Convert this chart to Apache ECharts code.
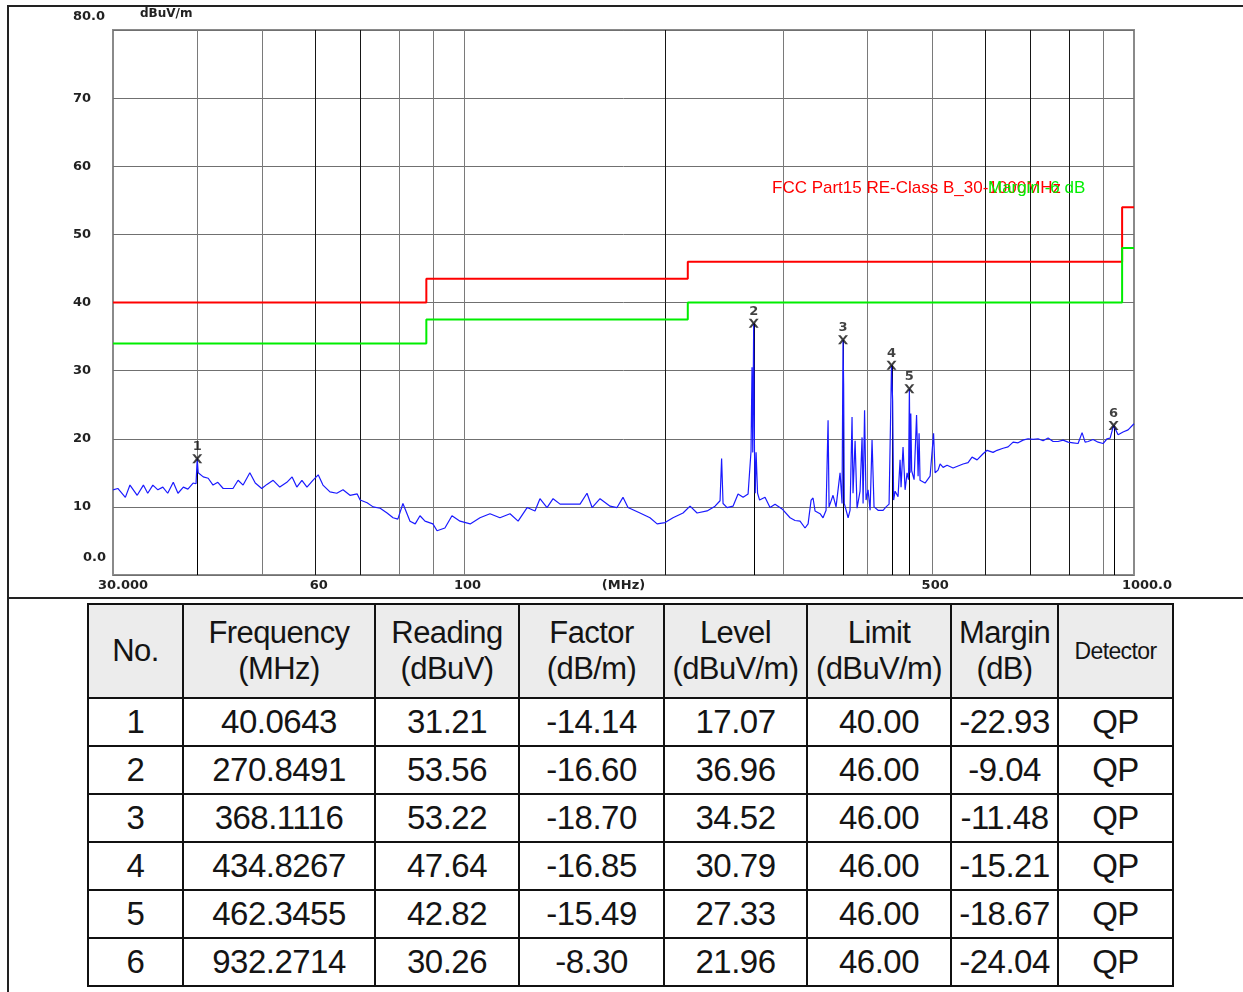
<!DOCTYPE html>
<html><head><meta charset="utf-8">
<script src="https://cdn.jsdelivr.net/npm/echarts@6/dist/echarts.min.js"></script>
<style>
html,body{margin:0;padding:0;background:#fff;width:1243px;height:992px;overflow:hidden;}
#frameL{position:absolute;left:7px;top:5px;width:0;height:990px;border-left:2px solid #222;}
#frameT{position:absolute;left:7px;top:5px;width:1236px;height:0;border-top:2px solid #222;}
#sep{position:absolute;left:7px;top:597px;width:1236px;height:0;border-top:2px solid #222;}
#chart{position:absolute;left:0;top:0;width:1243px;height:597px;}
#tbl{position:absolute;left:87px;top:603px;border-collapse:collapse;font-family:'Liberation Sans',Arial,sans-serif;color:#141414;table-layout:fixed;}
#tbl td,#tbl th{border:2px solid #111;text-align:center;padding:0;font-weight:normal;white-space:nowrap;overflow:hidden;}
#tbl th{background:#ececec;height:92px;font-size:31px;line-height:36px;letter-spacing:-0.6px;}
#tbl th.small{font-size:23px;}
#tbl td{height:46px;font-size:33px;line-height:46px;letter-spacing:-0.5px;}
</style></head>
<body>
<div id="chart"></div>
<div id="frameL"></div><div id="frameT"></div><div id="sep"></div>
<table id="tbl"></table>
<script>
// ---------- data ----------
const xTickValues = [30, 60, 100, 500, 1000];
const xTickLabels = ['30.000', '60', '100', '500', '1000.0'];
const yTickLabels = ['0.0', '10', '20', '30', '40', '50', '60', '70', '80.0'];
const gridFreqs = [40, 50, 60, 70, 80, 90, 100, 200, 300, 400, 500, 600, 700, 800, 900];
const darkGridFreqs = [60, 70, 200, 600, 700, 800];

const limitFreq  = [30, 88, 88, 216, 216, 960, 960, 1000];
const limitClassB = [40, 40, 43.5, 43.5, 46, 46, 54, 54];
const limitMargin = [34, 34, 37.5, 37.5, 40, 40, 48, 48];

const traceFreq = [30.0,30.5,31.3,31.8,32.6,33.3,33.8,34.4,35.0,35.6,36.2,36.9,37.5,38.2,38.8,39.5,39.9,40.06,40.2,40.9,41.6,42.3,43.0,43.8,44.5,45.3,46.1,46.9,48.0,48.9,50.0,50.9,52.0,53.2,54.5,55.5,56.4,57.4,58.4,59.6,60.7,61.7,63.2,64.7,66.1,67.7,69.4,70.1,71.8,73.3,75.1,76.9,78.5,79.8,81.2,83.2,84.7,86.1,87.6,90.0,91.3,93.8,96.1,98.8,102.3,105.8,109.5,113.3,117.3,120.6,124.4,127.8,130.0,133.2,136.0,139.3,144.1,149.2,152.8,155.5,159.8,165.4,169.4,172.9,175.9,183.3,189.7,194.4,199.8,205.3,212.5,217.7,223.0,230.8,237.2,241.3,242.6,243.8,247.2,252.3,256.7,261.2,265.7,268.4,269.3,270.0,270.85,271.6,272.3,273.1,274.5,276.4,281.6,286.5,291.5,298.6,306.9,312.2,317.6,323.1,326.5,329.9,332.1,334.4,340.2,343.7,347.3,349.7,350.9,355.7,359.4,364.4,366.9,368.11,368.9,369.7,374.6,377.1,379.7,381.0,383.7,386.3,390.3,393.0,394.4,396.4,398.4,401.2,404.0,406.7,409.5,415.2,422.4,426.8,431.2,434.83,436.5,438.0,440.2,444.7,447.8,449.3,452.4,455.6,458.7,461.0,462.35,463.5,464.6,466.0,469.9,473.9,476.4,478.0,479.6,487.9,496.4,502.4,505.0,510.2,513.8,519.1,526.3,537.2,546.5,556.0,565.6,573.4,583.4,595.5,603.8,616.3,624.9,637.9,648.9,660.2,671.6,683.2,695.1,707.1,719.3,731.8,744.5,757.4,770.5,783.8,797.4,811.2,825.3,836.7,845.4,854.1,868.9,884.0,899.3,911.7,921.2,932.27,946.8,963.2,979.9,1000];
const traceLevel = [12.5,12.7,11.4,13.2,11.7,13.2,12.0,13.2,12.5,12.9,12.0,13.6,12.0,12.9,12.6,13.5,13.4,17.07,15.0,14.4,14.2,13.2,13.6,12.7,12.7,12.7,13.9,13.2,15.0,13.5,12.7,13.3,13.9,12.9,13.6,14.4,12.9,13.9,12.9,13.9,14.7,13.2,12.2,12.0,12.5,11.7,11.9,11.0,10.6,10.0,9.8,9.1,8.4,8.2,10.5,7.9,7.5,8.7,7.9,7.5,6.5,6.9,8.7,7.9,7.5,8.4,9.0,8.4,9.0,7.9,9.9,9.4,11.2,9.9,11.2,10.4,10.4,10.4,12.0,9.9,11.2,10.1,9.9,11.4,9.9,9.1,8.4,7.5,7.7,8.4,9.1,10.1,9.1,9.4,10.1,10.9,17.1,10.5,9.9,10.1,11.9,11.4,11.9,18.2,30.5,18.0,36.96,18.2,12.0,18.0,12.0,11.0,11.4,9.9,10.4,9.7,8.4,8.0,7.9,6.9,7.5,11.0,11.3,9.4,9.0,8.4,9.5,22.7,10.0,11.7,10.0,15.0,10.5,34.52,28.0,10.5,8.4,9.5,23.2,12.0,19.7,9.8,12.3,20.2,10.5,24.2,11.0,12.5,9.5,19.8,10.0,9.5,9.5,10.0,10.4,30.79,25.6,11.0,12.3,11.5,16.9,12.9,18.8,12.5,15.0,14.0,27.33,15.0,23.7,15.3,14.0,23.5,14.5,20.8,13.9,13.5,14.5,20.8,15.0,15.4,16.3,15.8,16.1,15.7,16.0,16.3,16.5,17.3,16.9,17.8,18.3,18.0,18.3,18.6,18.8,19.5,19.4,19.8,20.0,19.9,20.0,19.7,20.1,19.6,19.6,19.8,19.5,19.4,19.3,20.9,19.5,19.6,19.9,19.5,19.3,20.0,20.1,21.96,20.6,21.0,21.3,22.2];

const markerNo = [1, 2, 3, 4, 5, 6];
const markerFreq = [40.0643, 270.8491, 368.1116, 434.8267, 462.3455, 932.2714];
const markerReading = [31.21, 53.56, 53.22, 47.64, 42.82, 30.26];
const markerFactor = [-14.14, -16.60, -18.70, -16.85, -15.49, -8.30];
const markerLevel = [17.07, 36.96, 34.52, 30.79, 27.33, 21.96];
const markerLimit = [40.00, 46.00, 46.00, 46.00, 46.00, 46.00];
const markerMargin = [-22.93, -9.04, -11.48, -15.21, -18.67, -24.04];
const markerDetector = ['QP', 'QP', 'QP', 'QP', 'QP', 'QP'];

const headerLines = [['No.'], ['Frequency', '(MHz)'], ['Reading', '(dBuV)'], ['Factor', '(dB/m)'], ['Level', '(dBuV/m)'], ['Limit', '(dBuV/m)'], ['Margin', '(dB)'], ['Detector']];
const colWidths = [95, 192, 144, 145, 143, 144, 107, 115];

// ---------- table ----------
(function () {
  const t = document.getElementById('tbl');
  let h = '<colgroup>' + colWidths.map(w => '<col style="width:' + w + 'px">').join('') + '</colgroup><tr>';
  headerLines.forEach((ls, i) => { h += '<th' + (i === 7 ? ' class="small"' : '') + '>' + ls.join('<br>') + '</th>'; });
  h += '</tr>';
  markerNo.forEach((n, i) => {
    h += '<tr><td>' + n + '</td><td>' + markerFreq[i].toFixed(4) + '</td><td>' + markerReading[i].toFixed(2) +
      '</td><td>' + markerFactor[i].toFixed(2) + '</td><td>' + markerLevel[i].toFixed(2) + '</td><td>' +
      markerLimit[i].toFixed(2) + '</td><td>' + markerMargin[i].toFixed(2) + '</td><td>' + markerDetector[i] + '</td></tr>';
  });
  t.innerHTML = h;
})();

// ---------- chart ----------
const chart = echarts.init(document.getElementById('chart'), null, { renderer: 'canvas' });
const AX_FONT = 'DejaVu Sans';
const darkSet = new Set(darkGridFreqs);
const X_PATH = 'path://M0,0 L2.6,0 L5,3.3 L7.4,0 L10,0 L6.4,5 L10,10 L7.4,10 L5,6.7 L2.6,10 L0,10 L3.6,5 Z';
const xLabelStyleKeys = ['a', 'c', 'c', 'd', 'e'];
const axText = { fontFamily: AX_FONT, fontWeight: 'bold', fontSize: 13, color: '#222' };

const option = {
  animation: false,
  backgroundColor: '#fff',
  grid: { left: 113, top: 30, width: 1021, height: 545, outerBoundsMode: 'none', containLabel: false,
    show: true, borderColor: '#8a8a8a', borderWidth: 2, backgroundColor: '#fff' },
  xAxis: {
    type: 'log', logBase: 10, min: 30, max: 1000,
    axisLine: { show: false }, axisTick: { show: false }, splitLine: { show: false },
    axisLabel: {
      customValues: xTickValues, showMinLabel: true, showMaxLabel: true,
      formatter: function (v) {
        for (let i = 0; i < xTickValues.length; i++) if (Math.abs(xTickValues[i] - v) < 1e-6) return '{' + xLabelStyleKeys[i] + '|' + xTickLabels[i] + '}';
        return '';
      },
      margin: 4,
      rich: {
        a: Object.assign({ padding: [0, 0, 0, 20] }, axText),
        c: Object.assign({ padding: [0, 0, 0, 8] }, axText),
        d: Object.assign({ padding: [0, 0, 0, 6] }, axText),
        e: Object.assign({ padding: [0, 0, 0, 26] }, axText)
      }
    },
    name: '(MHz)', nameLocation: 'middle', nameGap: 4, nameMoveOverlap: false,
    nameTextStyle: Object.assign({ verticalAlign: 'top', padding: [0, 0, 0, 0] }, axText)
  },
  yAxis: {
    type: 'value', min: 0, max: 80, interval: 10,
    axisLine: { show: false }, axisTick: { show: false },
    splitLine: { show: true, lineStyle: { color: '#707070', width: 1 } },
    axisLabel: {
      align: 'left', margin: 40, color: '#222',
      formatter: function (v) {
        const s = yTickLabels[Math.round(v / 10)];
        if (v === 80) return '{t|' + s + '}';
        if (v === 0) return '{b|' + s + '}';
        return '{n|' + s + '}';
      },
      rich: {
        n: Object.assign({}, axText),
        t: Object.assign({ padding: [0, 0, 27, 0] }, axText),
        b: Object.assign({ padding: [0, 0, 34, 10] }, axText)
      }
    }
  },
  graphic: [
    { type: 'text', left: 140, top: 8, style: { text: 'dBuV/m', fontFamily: AX_FONT, fontWeight: 'bold', fontSize: 12, fill: '#222' } },
    { type: 'text', left: 772, top: 180, style: { text: 'FCC Part15 RE-Class B_30-1000MHz', fontFamily: 'Liberation Sans', fontSize: 17, fill: '#ff0000' }, z: 10 },
    { type: 'text', left: 988, top: 180, style: { text: 'Margin -6 dB', fontFamily: 'Liberation Sans', fontSize: 17, fill: '#00ee00' }, z: 11 }
  ],
  series: [
    {
      type: 'custom', name: 'vgrid', silent: true, z: 1,
      data: gridFreqs.map(f => [f, 0]),
      renderItem: function (params, api) {
        const f = api.value(0);
        const p0 = api.coord([f, 0]);
        const p1 = api.coord([f, 80]);
        const x = Math.round(p0[0]) + 0.5;
        return { type: 'line', shape: { x1: x, y1: p1[1], x2: x, y2: p0[1] },
          style: { stroke: darkSet.has(f) ? '#161616' : '#7a7a7a', lineWidth: 1 } };
      }
    },
    {
      type: 'custom', name: 'markerDrop', silent: true, z: 2,
      data: markerFreq.map((f, i) => [f, markerLevel[i]]),
      renderItem: function (params, api) {
        const p1 = api.coord([api.value(0), api.value(1)]);
        const p0 = api.coord([api.value(0), 0]);
        const x = Math.round(p0[0]) + 0.5;
        return { type: 'line', shape: { x1: x, y1: p1[1], x2: x, y2: p0[1] }, style: { stroke: '#000', lineWidth: 1 } };
      }
    },
    {
      type: 'line', name: 'Level', z: 3, showSymbol: false, silent: true,
      data: traceFreq.map((f, i) => [f, traceLevel[i]]),
      lineStyle: { color: '#1a1aff', width: 1.2 }
    },
    {
      type: 'line', name: 'Limit', z: 4, showSymbol: false, silent: true,
      data: limitFreq.map((f, i) => [f, limitClassB[i]]),
      lineStyle: { color: '#ff0000', width: 2 }
    },
    {
      type: 'line', name: 'Margin', z: 4, showSymbol: false, silent: true,
      data: limitFreq.map((f, i) => [f, limitMargin[i]]),
      lineStyle: { color: '#00ee00', width: 2 }
    },
    {
      type: 'scatter', name: 'Markers', z: 6, silent: true,
      data: markerFreq.map((f, i) => [f, markerLevel[i]]),
      symbol: X_PATH, symbolSize: [10, 9],
      itemStyle: { color: '#111' },
      label: {
        show: true, position: 'top', distance: 1,
        formatter: function (p) { return String(markerNo[p.dataIndex]); },
        fontFamily: AX_FONT, fontWeight: 'bold', fontSize: 13, color: '#111'
      }
    }
  ]
};
chart.setOption(option);
</script>
</body></html>
